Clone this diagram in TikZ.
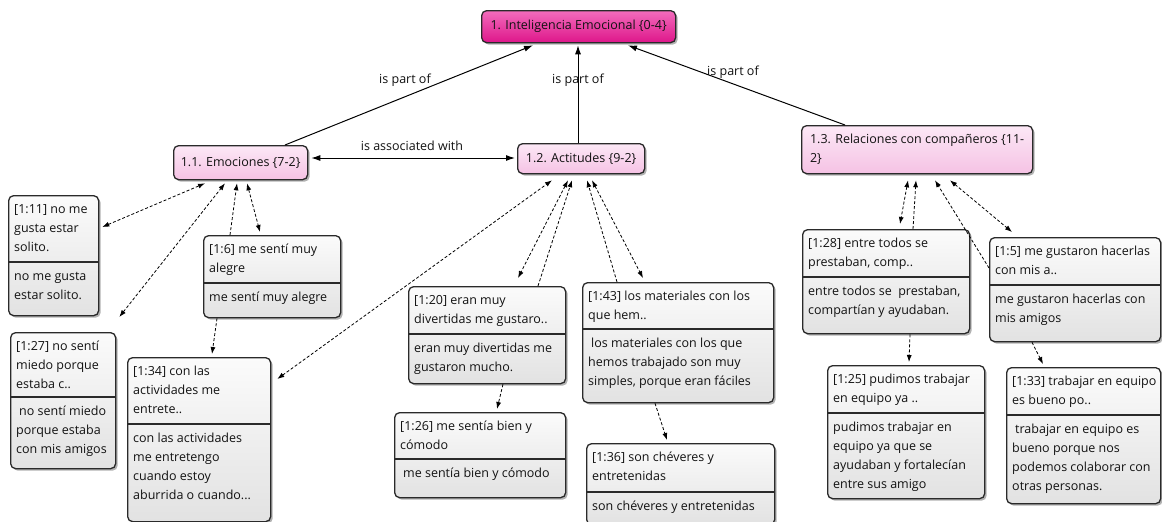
\documentclass[tikz,border=0pt]{standalone}
\usepackage{fontspec}
\setmainfont{Open Sans}
\usetikzlibrary{arrows.meta,shadows}
\definecolor{boxtop}{HTML}{FBFBFB}
\definecolor{boxbot}{HTML}{E2E2E2}
\definecolor{edge}{HTML}{2A2A2A}
\definecolor{pinktop}{HTML}{FCE8F6}
\definecolor{pinkbot}{HTML}{F5C2E4}
\definecolor{magtop}{HTML}{F26CBC}
\definecolor{magbot}{HTML}{DE168A}
\definecolor{ink}{HTML}{121212}
\newcommand\tf{\fontsize{12.5}{19}\selectfont}
\tikzset{
  shad/.style={drop shadow={shadow xshift=2pt, shadow yshift=-2pt, opacity=0.6}},
  tbox/.style={draw=edge, line width=1.3pt, rounded corners=5pt, top color=boxtop, bottom color=boxbot, shad, inner sep=0pt, anchor=north west},
  cbox/.style={draw=edge, line width=1.3pt, rounded corners=5pt, top color=pinktop, bottom color=pinkbot, shad, inner sep=0pt, anchor=north west, font=\tf, text=ink},
  mbox/.style={cbox, top color=magtop, bottom color=magbot},
  sepline/.style={draw=edge, line width=1.1pt},
  txt/.style={anchor=base west, inner sep=0pt, text=ink},
  dl/.style={dash pattern=on 3pt off 2pt, line width=0.8pt, draw=black},
  one/.style={dl, -{Latex[length=7pt,width=5pt]}},
  two/.style={dl, {Latex[length=7pt,width=5pt]}-{Latex[length=7pt,width=5pt]}},
  sl/.style={line width=1pt, draw=black, -{Latex[length=9pt,width=6pt]}},
  sl2/.style={line width=1pt, draw=black, {Latex[length=9pt,width=6pt]}-{Latex[length=9pt,width=6pt]}},
  lbl/.style={font=\tf, text=ink, inner sep=1pt}
}
% name, x1, y1, x2, y2, separator y, upper text, lower text
\newcommand\qbox[8]{%
  \node[tbox, minimum width={(#4-#2)*1pt}, minimum height={(#5-#3)*1pt}] (#1) at (#2,#3) {};
  \draw[sepline] (#2,#6) -- (#4,#6);
  \node[txt] (#1u) at ({#2+6},{#3+18}) {\parbox[t]{220pt}{\raggedright\tf #7}};
  \node[txt] (#1l) at ({#2+6},{#6+18}) {\parbox[t]{220pt}{\raggedright\tf #8}};
}
\begin{document}
\begin{tikzpicture}[x=1pt,y=-1pt]
\useasboundingbox (0,0) rectangle (1162,522);
\clip (0,0) rectangle (1162,522);
\fill[white] (0,0) rectangle (1162,522);

% concept nodes
\node[mbox, minimum width=194pt, minimum height=32pt] (top) at (481,10) {1. Inteligencia Emocional \{0-4\}};
\node[cbox, minimum width=134pt, minimum height=34pt] (emo) at (173,145) {1.1. Emociones \{7-2\}};
\node[cbox, minimum width=127pt, minimum height=30pt] (act) at (517,143) {1.2. Actitudes \{9-2\}};
\node[cbox, minimum width=231pt, minimum height=48pt, align=left] (rel) at (801,125) {1.3. Relaciones con compañeros \{11-\\2\}};

% quotation boxes
\qbox{b11}{8}{195}{98}{315}{262}{[1:11] no me\\gusta estar\\solito.}{no me gusta\\estar solito.}
\qbox{b27}{10}{332}{115}{468}{397}{[1:27] no sentí\\miedo porque\\estaba c..}{\hspace*{3pt}no sentí miedo\\porque estaba\\con mis amigos}
\qbox{b6}{203}{235}{340}{317}{283}{[1:6] me sentí muy\\alegre}{me sentí muy alegre}
\qbox{b34}{127}{357}{270}{521}{424}{[1:34] con las\\actividades me\\entrete..}{con las actividades\\me entretengo\\cuando estoy\\aburrida o cuando...}
\qbox{b20}{408}{286}{565}{383}{334}{[1:20] eran muy\\divertidas me gustaro..}{eran muy divertidas me\\gustaron mucho.}
\qbox{b26}{394}{412}{565}{497}{459}{[1:26] me sentía bien y\\cómodo}{\hspace*{3pt}me sentía bien y cómodo}
\qbox{b43}{582}{282}{773}{402}{329}{[1:43] los materiales con los\\que hem..}{\hspace*{3pt}los materiales con los que\\hemos trabajado son muy\\simples, porque eran fáciles}
\qbox{b36}{586}{443}{774}{524}{492}{[1:36] son chéveres y\\entretenidas}{son chéveres y entretenidas}
\qbox{b28}{802}{229}{969}{333}{277}{[1:28] entre todos se\\prestaban, comp..}{entre todos se\ \ prestaban,\\compartían y ayudaban.}
\qbox{b5}{989}{237}{1160}{341}{285}{[1:5] me gustaron hacerlas\\con mis a..}{me gustaron hacerlas con\\mis amigos}
\qbox{b25}{827}{365}{984}{498}{413}{[1:25] pudimos trabajar\\en equipo ya ..}{pudimos trabajar en\\equipo ya que se\\ayudaban y fortalecían\\entre sus amigo}
\qbox{b33}{1006}{367}{1160}{503}{415}{[1:33] trabajar en equipo\\es bueno po..}{\hspace*{3pt}trabajar en equipo es\\bueno porque nos\\podemos colaborar con\\otras personas.}

% solid relations
\draw[sl] ([shift={(112,0)}]emo.north west) -- ([shift={(52,2)}]top.south west);
\draw[sl] ([shift={(61,0)}]act.north west) -- ([shift={(97,2)}]top.south west);
\draw[sl] ([shift={(44,0)}]rel.north west) -- ([shift={(147,2)}]top.south west);
\draw[sl2] ([shift={(-2,15)}]act.north west) -- ([shift={(3,13)}]emo.north east);
\node[lbl] (l1) at (405,80) {is part of};
\node[lbl] (l2) at (578,80) {is part of};
\node[lbl] (l3) at (733,72) {is part of};
\node[lbl] (l4) at (412,146) {is associated with};

% dashed links, Emociones
\draw[two] ([shift={(3,32)}]b11.north east) -- ([shift={(32,3)}]emo.south west);
\draw[two] ([shift={(3,-15)}]b27.north east) -- ([shift={(52,3)}]emo.south west);
\draw[one] ([shift={(27,0)}]b6.north west) -- ([shift={(64,3)}]emo.south west);
\draw[two] ([shift={(74,3)}]emo.south west) -- ([shift={(57,-3)}]b6.north west);
\draw[one] ([shift={(14,0)}]b6.south west) -- ([shift={(85,-3)}]b34.north west);
\draw[two] ([shift={(6,22)}]b34.north east) -- ([shift={(35,6)}]act.south west);
% Actitudes
\draw[two] ([shift={(51,6)}]act.south west) -- ([shift={(110,-8)}]b20.north west);
\draw[one] ([shift={(130,0)}]b20.north west) -- ([shift={(55,6)}]act.south west);
\draw[one] ([shift={(35,0)}]b43.north west) -- ([shift={(70,6)}]act.south west);
\draw[two] ([shift={(75,6)}]act.south west) -- ([shift={(61,-4)}]b43.north west);
\draw[one] ([shift={(95,0)}]b20.south west) -- ([shift={(103,-3)}]b26.north west);
\draw[one] ([shift={(73,0)}]b43.south west) -- ([shift={(81,-3)}]b36.north west);
% Relaciones
\draw[two] ([shift={(107,6)}]rel.south west) -- ([shift={(98,-5)}]b28.north west);
\draw[one] ([shift={(111,0)}]b28.north west) -- ([shift={(115,6)}]rel.south west);
\draw[one] ([shift={(0,31)}]b5.north west) -- ([shift={(134,6)}]rel.south west);
\draw[two] ([shift={(149,6)}]rel.south west) -- ([shift={(23,-5)}]b5.north west);
\draw[one] ([shift={(108,0)}]b28.south west) -- ([shift={(82,-3)}]b25.north west);
\draw[one] ([shift={(43,0)}]b5.south west) -- ([shift={(37,-3)}]b33.north west);
\end{tikzpicture}
\end{document}
